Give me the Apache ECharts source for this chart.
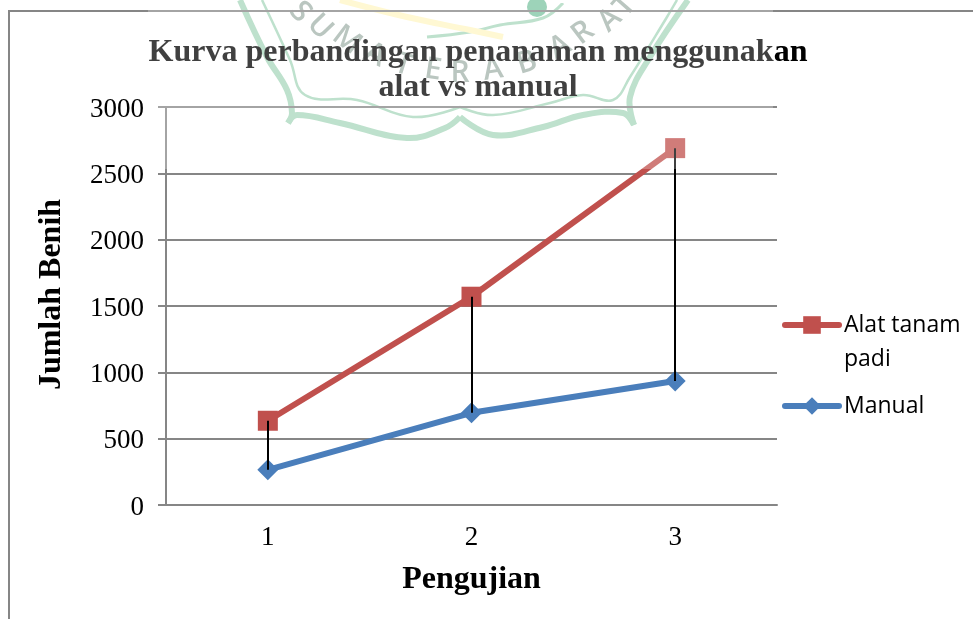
<!DOCTYPE html>
<html>
<head>
<meta charset="utf-8">
<title>Kurva perbandingan</title>
<style>
html, body { margin: 0; padding: 0; background: #fff; }
#chart { width: 973px; height: 619px; }
</style>
<script src="https://cdn.jsdelivr.net/npm/echarts@6/dist/echarts.min.js"></script>
</head>
<body>
<div id="chart"></div>
<script>
var categories = ['1', '2', '3'];
var alatValues = [635, 1570, 2690];
var manualValues = [265, 695, 935];
var yTicks = ['0', '500', '1000', '1500', '2000', '2500', '3000'];

var serif = '"Liberation Serif", serif';
var gridColor = '#868686';

// garis hitam antara dua kurva
var dropLines = categories.map(function (c, i) {
    return [{ coord: [i, alatValues[i]] }, { coord: [i, manualValues[i]] }];
});

// watermark logo di belakang grafik
function band(points, width, color) {
    return {
        type: 'polyline', z: -1, silent: true,
        shape: { points: points, smooth: 0.4 },
        style: { stroke: color, lineWidth: width, fill: null }
    };
}
function letter(ch, x, y, rot) {
    return {
        type: 'text', z: -1, silent: true, x: x, y: y, rotation: rot,
        style: { text: ch, font: '600 30px "Open Sans", sans-serif', fill: '#a3b3ab', align: 'center', verticalAlign: 'middle' }
    };
}
var green = '#a8d7bc';
var watermark = [
    band([[240, 0], [267, 57], [287, 90], [292, 113], [288, 123]], 6, green),
    band([[288, 123], [297, 115], [340, 123], [407, 138], [445, 128], [460, 117]], 6, green),
    band([[460, 117], [493, 135], [543, 127], [583, 115], [623, 113], [634, 125]], 6, green),
    band([[634, 125], [630, 97], [650, 57], [688, 0]], 6, green),
    band([[262, 0], [290, 60], [305, 95], [357, 100], [413, 117], [460, 107]], 2.5, green),
    band([[460, 107], [493, 115], [550, 103], [583, 95], [613, 100], [630, 77], [667, 17], [677, 0]], 2.5, green),
    band([[427, 37], [470, 32], [500, 25], [543, 18], [563, 3]], 3, green),
    band([[340, 0], [407, 17], [470, 30], [503, 37]], 6, '#fff6c4'),
    { type: 'circle', z: -1, silent: true, shape: { cx: 537, cy: 7, r: 10 }, style: { fill: '#7cc4a2' } },
    letter('S', 300, 12, -0.85), letter('U', 320, 27, -0.8), letter('M', 347, 40, -0.65),
    letter('A', 375, 55, -0.45), letter('T', 403, 65, -0.3), letter('E', 433, 70, -0.15),
    letter('R', 460, 73, 0), letter('A', 493, 70, 0.15), letter('B', 527, 63, 0.3),
    letter('A', 560, 47, 0.5), letter('R', 583, 33, 0.65), letter('A', 610, 20, 0.75), letter('T', 625, 6, 0.85),
    // lapisan putih transparan dari watermark
    { type: 'rect', z: 100, silent: true, shape: { x: 148, y: 0, width: 625, height: 169 }, style: { fill: 'rgba(255,255,255,0.25)' } }
];

// bingkai kiri dan atas
var frame = {
    type: 'polyline', z: 1, silent: true,
    shape: { points: [[9, 619], [9, 11], [973, 11]] },
    style: { stroke: gridColor, lineWidth: 2, fill: null }
};

var myChart = echarts.init(document.getElementById('chart'), null, { renderer: 'canvas' });
var option = {
    animation: false,
    backgroundColor: '#fff',
    title: {
        text: 'Kurva perbandingan penanaman menggunakan\nalat vs manual',
        left: 473, top: 30, textAlign: 'center',
        textStyle: { fontFamily: serif, fontSize: 32, fontWeight: 'bold', color: '#000', lineHeight: 35 }
    },
    legend: {
        orient: 'vertical', left: 777, top: 269,
        itemWidth: 54, itemHeight: 22, itemGap: 13,
        data: [
            { name: 'Alat tanam padi', lineStyle: { width: 6, cap: 'round' } },
            { name: 'Manual', lineStyle: { width: 6, cap: 'round' } }
        ],
        formatter: function (name) {
            return name == 'Manual' ? name : '\nAlat tanam\npadi';
        },
        textStyle: { fontFamily: '"Open Sans", sans-serif', fontSize: 23, color: '#000', lineHeight: 34 }
    },
    grid: { left: 166, right: 196, top: 107, bottom: 114 },
    xAxis: {
        type: 'category', data: categories,
        name: 'Pengujian', nameLocation: 'middle', nameGap: 59,
        nameTextStyle: { fontFamily: serif, fontSize: 32, fontWeight: 'bold', color: '#000' },
        axisTick: { show: false },
        axisLine: { lineStyle: { color: gridColor, width: 2 } },
        axisLabel: { fontFamily: serif, fontSize: 27, color: '#000', margin: 19 }
    },
    yAxis: {
        type: 'value', min: 0, max: 3000, interval: 500,
        name: 'Jumlah Benih', nameLocation: 'middle', nameGap: 98,
        nameTextStyle: { fontFamily: serif, fontSize: 32, fontWeight: 'bold', color: '#000', padding: [0, 0, 0, 23] },
        axisLine: { show: true, lineStyle: { color: gridColor, width: 2 } },
        axisTick: { show: true, length: 8, lineStyle: { color: gridColor, width: 2 } },
        splitLine: { lineStyle: { color: gridColor, width: 2 } },
        axisLabel: {
            color: '#000', margin: 22,
            formatter: function (v) { return '{a|' + yTicks[v / 500] + '}'; },
            rich: { a: { fontFamily: serif, fontSize: 27, color: '#000', padding: [5, 0, 0, 0] } }
        }
    },
    series: [
        {
            name: 'Alat tanam padi', type: 'line', data: alatValues,
            symbol: 'rect', symbolSize: 20,
            lineStyle: { color: '#c0504d', width: 6, cap: 'round' },
            itemStyle: { color: '#c0504d' }
        },
        {
            name: 'Manual', type: 'line', data: manualValues,
            symbol: 'diamond', symbolSize: 21,
            lineStyle: { color: '#4a7ebb', width: 6, cap: 'round' },
            itemStyle: { color: '#4a7ebb' },
            markLine: {
                silent: true, symbol: 'none', z: 20, animation: false,
                label: { show: false },
                lineStyle: { color: '#000', type: 'solid', width: 2 },
                data: dropLines
            }
        }
    ],
    graphic: { elements: watermark.concat([frame]) }
};
myChart.setOption(option);
</script>
</body>
</html>
